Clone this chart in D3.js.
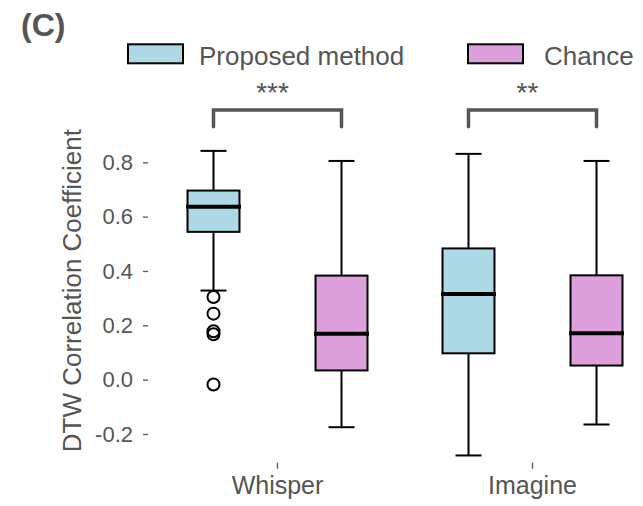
<!DOCTYPE html>
<html>
<head>
<meta charset="utf-8">
<script src="https://cdn.jsdelivr.net/npm/d3@7"></script>
<style>
  html, body { margin: 0; padding: 0; background: #fff; }
  svg { display: block; font-family: "Liberation Sans", Arial, sans-serif; }
</style>
</head>
<body>
<svg id="chart" width="643" height="506"></svg>
<script>
// ---- data ----
const categories = ["Whisper", "Imagine"];
const series = ["Proposed method", "Chance"];
const seriesColors = ["#add8e6", "#dda0dd"];

const proposedMin    = [0.328, -0.279];
const proposedQ1     = [0.544, 0.097];
const proposedMedian = [0.636, 0.315];
const proposedQ3     = [0.696, 0.483];
const proposedMax    = [0.842, 0.831];
const proposedOutliers = [[0.304, 0.243, 0.178, 0.167, -0.018], []];

const chanceMin    = [-0.175, -0.165];
const chanceQ1     = [0.034, 0.052];
const chanceMedian = [0.169, 0.171];
const chanceQ3     = [0.383, 0.384];
const chanceMax    = [0.805, 0.805];
const chanceOutliers = [[], []];

const significance = ["***", "**"];
const yTicks = [-0.2, 0.0, 0.2, 0.4, 0.6, 0.8];
const yTickLabels = ["-0.2", "0.0", "0.2", "0.4", "0.6", "0.8"];
const yLabel = "DTW Correlation Coefficient";
const panelTitle = "(C)";

// ---- build box table ----
const stats = [
  {min: proposedMin, q1: proposedQ1, med: proposedMedian, q3: proposedQ3, max: proposedMax, out: proposedOutliers},
  {min: chanceMin, q1: chanceQ1, med: chanceMedian, q3: chanceQ3, max: chanceMax, out: chanceOutliers}
];
const boxes = [];
categories.forEach((c, ci) => {
  series.forEach((s, si) => {
    const st = stats[si];
    boxes.push({cat: c, ser: s, color: seriesColors[si],
      min: st.min[ci], q1: st.q1[ci], med: st.med[ci], q3: st.q3[ci], max: st.max[ci], out: st.out[ci]});
  });
});

const svg = d3.select("#chart");
const textColor = "#555555";

// ---- scales ----
const x = d3.scaleBand().domain(categories).range([150, 660]).paddingInner(0).paddingOuter(0);
const xSub = d3.scaleBand().domain(series).range([0, x.bandwidth()]).paddingInner(0.594).paddingOuter(0.293);
const y = d3.scaleLinear().domain([-0.2, 0.8]).range([434, 162.3]);

// ---- axes ----
const yAxis = d3.axisLeft(y).tickValues(yTicks).tickSize(5).tickPadding(10)
  .tickFormat((d, i) => yTickLabels[i]);
const gy = svg.append("g").attr("transform", "translate(148,0)").call(yAxis);
gy.select(".domain").remove();
gy.selectAll(".tick line").attr("stroke", textColor).attr("stroke-width", 1.3);
gy.selectAll(".tick text").attr("fill", textColor).style("font-size", "22px");

const xAxis = d3.axisBottom(x).tickSize(6).tickPadding(8);
const gx = svg.append("g").attr("transform", "translate(0,462.7)").call(xAxis);
gx.select(".domain").remove();
gx.selectAll(".tick line").attr("stroke", textColor).attr("stroke-width", 1.3);
gx.selectAll(".tick text").attr("fill", textColor).style("font-size", "25px");

// ---- y label ----
svg.append("text")
  .attr("transform", `translate(81,${(y(-0.2) + y(0.8)) / 2 - 7.5}) rotate(-90)`)
  .attr("text-anchor", "middle")
  .attr("fill", textColor)
  .style("font-size", "26px")
  .text(yLabel);

// ---- boxes ----
const capHalf = xSub.bandwidth() / 4;
const g = svg.append("g");
const bg = g.selectAll("g.box").data(boxes).join("g").attr("class", "box")
  .attr("transform", d => `translate(${x(d.cat) + xSub(d.ser) + xSub.bandwidth() / 2},0)`);

// whiskers
bg.append("line").attr("x1", 0).attr("x2", 0).attr("y1", d => y(d.q3)).attr("y2", d => y(d.max))
  .attr("stroke", "#000").attr("stroke-width", 2);
bg.append("line").attr("x1", 0).attr("x2", 0).attr("y1", d => y(d.q1)).attr("y2", d => y(d.min))
  .attr("stroke", "#000").attr("stroke-width", 2);
bg.append("line").attr("x1", -capHalf).attr("x2", capHalf).attr("y1", d => y(d.max)).attr("y2", d => y(d.max))
  .attr("stroke", "#000").attr("stroke-width", 2);
bg.append("line").attr("x1", -capHalf).attr("x2", capHalf).attr("y1", d => y(d.min)).attr("y2", d => y(d.min))
  .attr("stroke", "#000").attr("stroke-width", 2);
// box
bg.append("rect")
  .attr("x", -xSub.bandwidth() / 2).attr("width", xSub.bandwidth())
  .attr("y", d => y(d.q3)).attr("height", d => y(d.q1) - y(d.q3))
  .attr("fill", d => d.color).attr("stroke", "#000").attr("stroke-width", 2);
// median
bg.append("line").attr("x1", -xSub.bandwidth() / 2 - 1.5).attr("x2", xSub.bandwidth() / 2 + 1.5)
  .attr("y1", d => y(d.med)).attr("y2", d => y(d.med))
  .attr("stroke", "#000").attr("stroke-width", 4);
// outliers
bg.selectAll("circle").data(d => d.out).join("circle")
  .attr("cx", 0).attr("cy", v => y(v)).attr("r", 6)
  .attr("fill", "none").attr("stroke", "#000").attr("stroke-width", 2);

// ---- significance brackets ----
const sig = svg.append("g");
categories.forEach((c, i) => {
  const xa = x(c) + xSub(series[0]) + xSub.bandwidth() / 2;
  const xb = x(c) + xSub(series[1]) + xSub.bandwidth() / 2;
  sig.append("path")
    .attr("d", `M${xa},126.7 L${xa},110 L${xb},110 L${xb},126.7`)
    .attr("fill", "none").attr("stroke", textColor).attr("stroke-width", 3.5)
    .attr("stroke-linecap", "round");
  sig.append("text")
    .attr("x", (xa + xb) / 2 - 5).attr("y", 102)
    .attr("text-anchor", "middle").attr("fill", textColor)
    .style("font-size", "28px")
    .text(significance[i]);
});

// ---- legend ----
const legendX = [128, 468];
const legendTextGap = [71, 76];
const leg = svg.append("g");
series.forEach((s, i) => {
  leg.append("rect").attr("x", legendX[i]).attr("y", 44.3).attr("width", 55).attr("height", 19)
    .attr("fill", seriesColors[i]).attr("stroke", "#000").attr("stroke-width", 2);
  leg.append("text").attr("x", legendX[i] + legendTextGap[i]).attr("y", 65)
    .attr("fill", textColor).style("font-size", "26px").text(s);
});

// ---- title ----
svg.append("text").attr("x", 21).attr("y", 36)
  .attr("fill", textColor).style("font-size", "32px").style("font-weight", "bold")
  .text(panelTitle);
</script>
</body>
</html>
